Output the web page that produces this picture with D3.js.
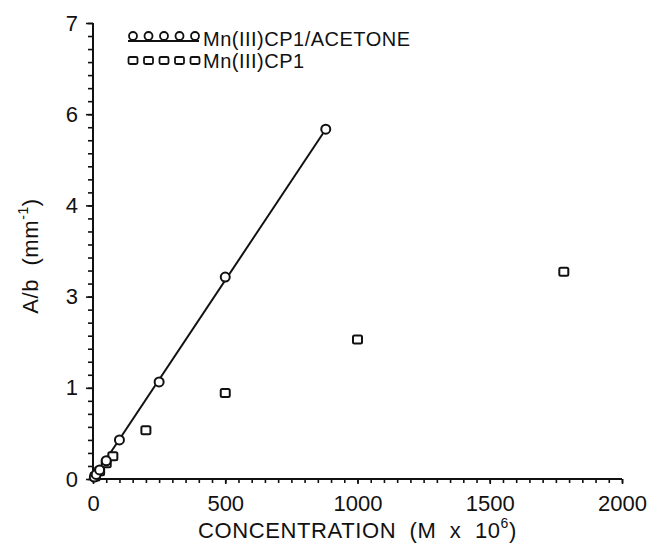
<!DOCTYPE html>
<html>
<head>
<script src="https://cdnjs.cloudflare.com/ajax/libs/d3/7.8.5/d3.min.js"></script>
<style>
  body { margin: 0; background: #fff; }
  text { font-family: "Liberation Sans", Arial, sans-serif; fill: #111; }
</style>
</head>
<body>
<script>
// Mn(III)CP1 in acetone (circles, with line)
var acetoneConc = [5, 12, 25, 50, 100, 250, 500, 880];
var acetoneAb   = [0.03, 0.07, 0.14, 0.28, 0.60, 1.49, 3.10, 5.37];
// Mn(III)CP1 alone (squares)
var cp1Conc = [8, 25, 50, 75, 200, 500, 1000, 1780];
var cp1Ab   = [0.04, 0.12, 0.24, 0.35, 0.75, 1.32, 2.14, 3.18];

var xTicks = [0, 500, 1000, 1500, 2000];
var yTicks = [0, 1.4, 2.8, 4.2, 5.6, 7.0];   // printed rounded: 0 1 3 4 6 7
var legendLabels = ["Mn(III)CP1/ACETONE", "Mn(III)CP1"];

var width = 651, height = 546;

var svg = d3.select("body").append("svg")
    .attr("width", width)
    .attr("height", height);

var x = d3.scaleLinear().domain([0, 2000]).range([93, 622]);
var y = d3.scaleLinear().domain([0, 7]).range([479, 23]);

// x axis: minor ticks every 50, down
var xMinor = d3.axisBottom(x).tickValues(d3.range(0, 2001, 50)).tickSize(4).tickFormat("");
svg.append("g").attr("transform", "translate(0," + y(0) + ")").call(xMinor)
  .call(function(g){ g.select(".domain").remove(); })
  .selectAll("line").attr("stroke", "#111").attr("stroke-width", 1.6);

var xMajor = d3.axisBottom(x).tickValues(xTicks).tickSize(5).tickPadding(6)
  .tickFormat(d3.format("d"));
var gx = svg.append("g").attr("transform", "translate(0," + y(0) + ")").call(xMajor);
gx.select(".domain").attr("stroke", "#111").attr("stroke-width", 2).attr("d", "M" + x(0) + ",0H" + x(2000));
gx.selectAll("line").attr("stroke", "#111").attr("stroke-width", 1.6);
gx.selectAll("text").attr("font-size", 22).attr("fill", "#111").attr("dy", "0.95em");

// y axis: minor ticks every 0.2, left
var yMinor = d3.axisLeft(y).tickValues(d3.range(0, 36).map(function(i){ return i * 0.2; })).tickSize(5).tickFormat("");
svg.append("g").attr("transform", "translate(" + x(0) + ",0)").call(yMinor)
  .call(function(g){ g.select(".domain").remove(); })
  .selectAll("line").attr("stroke", "#111").attr("stroke-width", 1.6);

var yMajor = d3.axisLeft(y).tickValues(yTicks).tickSize(7).tickPadding(8)
  .tickFormat(function(d){ return Math.round(d); });
var gy = svg.append("g").attr("transform", "translate(" + x(0) + ",0)").call(yMajor);
gy.select(".domain").attr("stroke", "#111").attr("stroke-width", 2).attr("d", "M0," + y(0) + "V" + y(7));
gy.selectAll("line").attr("stroke", "#111").attr("stroke-width", 1.6);
gy.selectAll("text").attr("font-size", 22).attr("fill", "#111");

// axis titles
var xt = svg.append("text")
  .attr("x", (x(0) + x(2000)) / 2).attr("y", 538)
  .attr("text-anchor", "middle").attr("font-size", 22)
  .attr("letter-spacing", 0.6)
  .attr("xml:space", "preserve");
xt.append("tspan").text("CONCENTRATION  (M  x  10");
xt.append("tspan").attr("font-size", 14).attr("dy", -10).text("6");
xt.append("tspan").attr("dy", 10).text(")");

var yt = svg.append("text")
  .attr("transform", "translate(38," + 256 + ") rotate(-90)")
  .attr("text-anchor", "middle").attr("font-size", 22)
  .attr("letter-spacing", 0.6)
  .attr("xml:space", "preserve");
yt.append("tspan").text("A/b  (mm");
yt.append("tspan").attr("font-size", 14).attr("dy", -10).text("-1");
yt.append("tspan").attr("dy", 10).text(")");

// fitted line through acetone points
var acetone = acetoneConc.map(function(c, i){ return {x: c, y: acetoneAb[i]}; });
var cp1 = cp1Conc.map(function(c, i){ return {x: c, y: cp1Ab[i]}; });

var line = d3.line().x(function(d){ return x(d.x); }).y(function(d){ return y(d.y); });
svg.append("path")
  .datum([{x: 0, y: 0}, acetone[acetone.length - 1]])
  .attr("d", line)
  .attr("fill", "none").attr("stroke", "#111").attr("stroke-width", 2);

svg.selectAll(".sq").data(cp1).enter().append("rect")
  .attr("class", "sq")
  .attr("x", function(d){ return x(d.x) - 4.5; })
  .attr("y", function(d){ return y(d.y) - 4; })
  .attr("width", 9).attr("height", 8).attr("rx", 1.5)
  .attr("fill", "#fff").attr("stroke", "#111").attr("stroke-width", 2);

svg.selectAll(".ci").data(acetone).enter().append("circle")
  .attr("class", "ci")
  .attr("cx", function(d){ return x(d.x); })
  .attr("cy", function(d){ return y(d.y); })
  .attr("r", 4.5)
  .attr("fill", "#fff").attr("stroke", "#111").attr("stroke-width", 2);

// legend
var lg = svg.append("g");
var lx = d3.range(5).map(function(i){ return 133 + i * 15.5; });
lg.append("line").attr("x1", 128).attr("x2", 199).attr("y1", 41).attr("y2", 41)
  .attr("stroke", "#111").attr("stroke-width", 2);
lg.selectAll(".lc").data(lx).enter().append("circle")
  .attr("cx", function(d){ return d; }).attr("cy", 36).attr("r", 4)
  .attr("fill", "#fff").attr("stroke", "#111").attr("stroke-width", 1.8);
lg.selectAll(".ls").data(lx).enter().append("rect")
  .attr("x", function(d){ return d - 4.5; }).attr("y", 57).attr("width", 9).attr("height", 7).attr("rx", 1.5)
  .attr("fill", "#fff").attr("stroke", "#111").attr("stroke-width", 1.8);
lg.selectAll(".lt").data(legendLabels).enter().append("text")
  .attr("x", 203).attr("y", function(d, i){ return 46 + i * 22; })
  .attr("font-size", 20).attr("letter-spacing", 0.5).text(function(d){ return d; });
</script>
</body>
</html>
